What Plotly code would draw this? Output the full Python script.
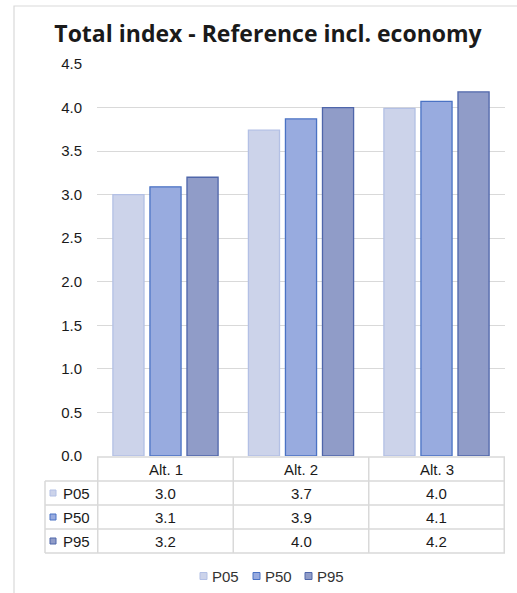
import plotly.graph_objects as go

W, H = 517, 593

categories = ["Alt. 1", "Alt. 2", "Alt. 3"]
series_names = ["P05", "P50", "P95"]
p05 = [3.00, 3.74, 3.99]
p50 = [3.09, 3.87, 4.07]
p95 = [3.20, 4.00, 4.18]
series_values = [p05, p50, p95]
y_ticks = [0.0, 0.5, 1.0, 1.5, 2.0, 2.5, 3.0, 3.5, 4.0, 4.5]

fills = ["#ccd3ea", "#98abdf", "#909cc8"]
borders = ["#b3c0e5", "#4a72c4", "#4f66aa"]

FONT = "Liberation Sans, Arial, sans-serif"
GRID = "#d9d9d9"
TXT = "#1a1a1a"


def px_x(x):
    return x / W


def px_y(y):
    return 1 - y / H


fig = go.Figure()
for name, vals, fc, bc in zip(series_names, series_values, fills, borders):
    fig.add_trace(go.Bar(
        x=categories, y=vals, name=name,
        marker=dict(color=fc, line=dict(color=bc, width=1.3)),
        showlegend=False, hoverinfo="x+y+name",
    ))

shapes = []
annotations = []

# outer chart frame
shapes.append(dict(type="rect", xref="paper", yref="paper",
                   x0=px_x(14), x1=px_x(540), y0=px_y(6), y1=px_y(620),
                   line=dict(color=GRID, width=1.2), layer="below"))

# data table grid
rows_px = [457, 481, 505, 529, 553]
tbl_left, hdr_right, tbl_right = 45, 97, 505
line = dict(color=GRID, width=1.5)
shapes.append(dict(type="line", xref="paper", yref="paper",
                   x0=px_x(hdr_right), x1=px_x(tbl_right),
                   y0=px_y(rows_px[0]), y1=px_y(rows_px[0]), line=line))
for r in rows_px[1:]:
    shapes.append(dict(type="line", xref="paper", yref="paper",
                       x0=px_x(tbl_left), x1=px_x(tbl_right),
                       y0=px_y(r), y1=px_y(r), line=line))
shapes.append(dict(type="line", xref="paper", yref="paper",
                   x0=px_x(tbl_left), x1=px_x(tbl_left),
                   y0=px_y(rows_px[1]), y1=px_y(rows_px[-1]), line=line))
for i in range(len(categories) + 1):
    xb = i - 0.5
    shapes.append(dict(type="line", xref="x", yref="paper",
                       x0=xb, x1=xb, y0=px_y(rows_px[0]), y1=px_y(rows_px[-1]),
                       line=line))

# header row: category names
hdr_mid = (rows_px[0] + rows_px[1]) / 2
for i, c in enumerate(categories):
    annotations.append(dict(x=i, y=px_y(hdr_mid), xref="x", yref="paper",
                            text=c, showarrow=False, yanchor="middle",
                            font=dict(family=FONT, size=15, color=TXT)))

# value rows with legend keys
for k, (name, vals, fc, bc) in enumerate(zip(series_names, series_values, fills, borders)):
    mid = (rows_px[k + 1] + rows_px[k + 2]) / 2
    shapes.append(dict(type="rect", xref="paper", yref="paper",
                       x0=px_x(50), x1=px_x(56), y0=px_y(mid - 3), y1=px_y(mid + 3),
                       fillcolor=fc, line=dict(color=bc, width=1)))
    annotations.append(dict(x=px_x(61), y=px_y(mid), xref="paper", yref="paper",
                            text=name, showarrow=False, xanchor="left", yanchor="middle",
                            font=dict(family=FONT, size=15, color=TXT)))
    for i, v in enumerate(vals):
        annotations.append(dict(x=i, y=px_y(mid), xref="x", yref="paper",
                                text=f"{v:.1f}", showarrow=False, yanchor="middle",
                                font=dict(family=FONT, size=15, color=TXT)))

# bottom legend
leg_y = 576
leg_x = [200, 253, 305]
for name, fc, bc, lx in zip(series_names, fills, borders, leg_x):
    shapes.append(dict(type="rect", xref="paper", yref="paper",
                       x0=px_x(lx), x1=px_x(lx + 7), y0=px_y(leg_y - 3.5), y1=px_y(leg_y + 3.5),
                       fillcolor=fc, line=dict(color=bc, width=1)))
    annotations.append(dict(x=px_x(lx + 10), y=px_y(leg_y), xref="paper", yref="paper",
                            text=name, showarrow=False, xanchor="left", yanchor="middle",
                            font=dict(family=FONT, size=15, color="#333333")))

fig.update_layout(
    width=W, height=H,
    margin=dict(l=0, r=0, t=0, b=0, autoexpand=False),
    paper_bgcolor="white", plot_bgcolor="white",
    showlegend=False,
    title=dict(text="<b>Total index - Reference incl. economy</b>",
               x=px_x(268), xanchor="center", y=px_y(34), yanchor="middle",
               font=dict(family="Open Sans, sans-serif", size=23, color=TXT)),
    barmode="group", bargap=0.18, bargroupgap=0.16,
    xaxis=dict(domain=[px_x(97), px_x(505)], showticklabels=False,
               showgrid=False, zeroline=False, showline=False, ticks="",
               automargin=False),
    yaxis=dict(domain=[px_y(456), px_y(64)], range=[0, 4.5],
               tickvals=y_ticks, ticktext=[f"{t:.1f}" for t in y_ticks],
               showgrid=True, gridcolor=GRID, gridwidth=1,
               zeroline=False, showline=False, ticks="",
               ticklabelstandoff=14, automargin=False,
               tickfont=dict(family=FONT, size=15, color=TXT)),
    shapes=shapes, annotations=annotations,
)

fig.write_html("out.html")
